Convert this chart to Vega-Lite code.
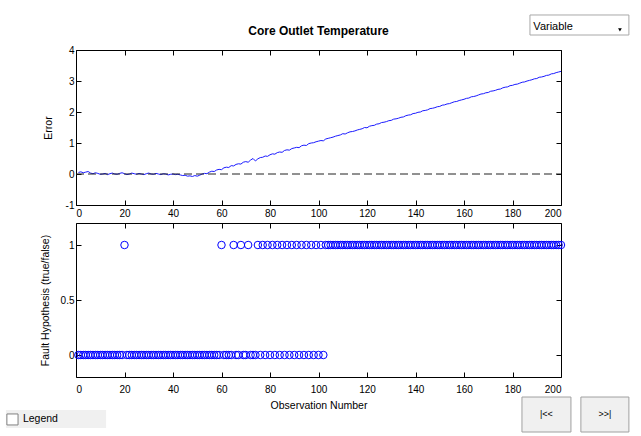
{
  "$schema": "https://vega.github.io/schema/vega-lite/v6.json",
  "padding": {"left": 5, "top": 13, "right": 5, "bottom": 2},
  "background": "white",
  "config": {
    "font": "Liberation Sans",
    "view": {"stroke": "black", "strokeWidth": 1},
    "axis": {"domain": false, "grid": false, "labelFont": "Liberation Sans", "labelFontSize": 10, "labelColor": "black", "titleFont": "Liberation Sans", "titleFontSize": 10.5, "titleFontWeight": "normal", "titleColor": "black", "tickColor": "black", "tickSize": -5, "tickWidth": 1}
  },
  "datasets": {
    "err": [
      {"x":1,"e":0.05},{"x":2,"e":0.07},{"x":3,"e":0.04},{"x":4,"e":0.06},{"x":5,"e":0.08},{"x":6,"e":0.03},{"x":7,"e":0.01},{"x":8,"e":0.04},{"x":9,"e":0.02},{"x":10,"e":-0.01},
      {"x":11,"e":0.0},{"x":12,"e":0.02},{"x":13,"e":-0.02},{"x":14,"e":0.01},{"x":15,"e":0.03},{"x":16,"e":0.0},{"x":17,"e":-0.01},{"x":18,"e":0.02},{"x":19,"e":0.04},{"x":20,"e":0.01},
      {"x":21,"e":-0.02},{"x":22,"e":0.0},{"x":23,"e":0.03},{"x":24,"e":0.01},{"x":25,"e":-0.01},{"x":26,"e":0.02},{"x":27,"e":0.0},{"x":28,"e":-0.02},{"x":29,"e":0.01},{"x":30,"e":0.03},
      {"x":31,"e":0.0},{"x":32,"e":-0.01},{"x":33,"e":0.02},{"x":34,"e":0.0},{"x":35,"e":-0.02},{"x":36,"e":0.01},{"x":37,"e":0.0},{"x":38,"e":-0.03},{"x":39,"e":-0.01},{"x":40,"e":0.0},
      {"x":41,"e":-0.02},{"x":42,"e":-0.01},{"x":43,"e":-0.03},{"x":44,"e":-0.05},{"x":45,"e":-0.04},{"x":46,"e":-0.07},{"x":47,"e":-0.06},{"x":48,"e":-0.08},{"x":49,"e":-0.05},{"x":50,"e":-0.07},
      {"x":51,"e":-0.04},{"x":52,"e":0.0},{"x":53,"e":0.02},{"x":54,"e":0.01},{"x":55,"e":0.06},{"x":56,"e":0.09},{"x":57,"e":0.08},{"x":58,"e":0.13},{"x":59,"e":0.15},{"x":60,"e":0.14},
      {"x":61,"e":0.2},{"x":62,"e":0.22},{"x":63,"e":0.21},{"x":64,"e":0.27},{"x":65,"e":0.26},{"x":66,"e":0.31},{"x":67,"e":0.33},{"x":68,"e":0.32},{"x":69,"e":0.38},{"x":70,"e":0.4},
      {"x":71,"e":0.38},{"x":72,"e":0.45},{"x":73,"e":0.5},{"x":74,"e":0.42},{"x":75,"e":0.49},{"x":76,"e":0.53},{"x":77,"e":0.54},{"x":78,"e":0.58},{"x":79,"e":0.57},{"x":80,"e":0.62},
      {"x":81,"e":0.65},{"x":82,"e":0.64},{"x":83,"e":0.69},{"x":84,"e":0.71},{"x":85,"e":0.7},{"x":86,"e":0.76},{"x":87,"e":0.78},{"x":88,"e":0.77},{"x":89,"e":0.82},{"x":90,"e":0.84},
      {"x":91,"e":0.86},{"x":92,"e":0.85},{"x":93,"e":0.91},{"x":94,"e":0.93},{"x":95,"e":0.92},{"x":96,"e":0.98},{"x":97,"e":1.0},{"x":98,"e":1.01},{"x":99,"e":1.04},{"x":100,"e":1.06},
      {"x":101,"e":1.08},{"x":102,"e":1.07},{"x":103,"e":1.13},{"x":104,"e":1.15},{"x":105,"e":1.17},{"x":106,"e":1.19},{"x":107,"e":1.22},{"x":108,"e":1.24},{"x":109,"e":1.26},{"x":110,"e":1.3},
      {"x":111,"e":1.29},{"x":112,"e":1.33},{"x":113,"e":1.36},{"x":114,"e":1.37},{"x":115,"e":1.39},{"x":116,"e":1.42},{"x":117,"e":1.44},{"x":118,"e":1.46},{"x":119,"e":1.5},{"x":120,"e":1.49},
      {"x":121,"e":1.54},{"x":122,"e":1.56},{"x":123,"e":1.57},{"x":124,"e":1.61},{"x":125,"e":1.62},{"x":126,"e":1.66},{"x":127,"e":1.67},{"x":128,"e":1.69},{"x":129,"e":1.72},{"x":130,"e":1.73},
      {"x":131,"e":1.77},{"x":132,"e":1.78},{"x":133,"e":1.8},{"x":134,"e":1.83},{"x":135,"e":1.84},{"x":136,"e":1.88},{"x":137,"e":1.9},{"x":138,"e":1.91},{"x":139,"e":1.95},{"x":140,"e":1.96},
      {"x":141,"e":1.99},{"x":142,"e":2.0},{"x":143,"e":2.04},{"x":144,"e":2.05},{"x":145,"e":2.07},{"x":146,"e":2.11},{"x":147,"e":2.12},{"x":148,"e":2.14},{"x":149,"e":2.17},{"x":150,"e":2.18},
      {"x":151,"e":2.22},{"x":152,"e":2.23},{"x":153,"e":2.26},{"x":154,"e":2.27},{"x":155,"e":2.3},{"x":156,"e":2.33},{"x":157,"e":2.34},{"x":158,"e":2.37},{"x":159,"e":2.39},{"x":160,"e":2.41},
      {"x":161,"e":2.44},{"x":162,"e":2.45},{"x":163,"e":2.49},{"x":164,"e":2.5},{"x":165,"e":2.52},{"x":166,"e":2.55},{"x":167,"e":2.58},{"x":168,"e":2.59},{"x":169,"e":2.62},{"x":170,"e":2.63},
      {"x":171,"e":2.67},{"x":172,"e":2.68},{"x":173,"e":2.7},{"x":174,"e":2.73},{"x":175,"e":2.74},{"x":176,"e":2.78},{"x":177,"e":2.8},{"x":178,"e":2.81},{"x":179,"e":2.85},{"x":180,"e":2.86},
      {"x":181,"e":2.89},{"x":182,"e":2.9},{"x":183,"e":2.93},{"x":184,"e":2.96},{"x":185,"e":2.97},{"x":186,"e":3.0},{"x":187,"e":3.02},{"x":188,"e":3.04},{"x":189,"e":3.07},{"x":190,"e":3.08},
      {"x":191,"e":3.12},{"x":192,"e":3.13},{"x":193,"e":3.15},{"x":194,"e":3.18},{"x":195,"e":3.19},{"x":196,"e":3.23},{"x":197,"e":3.24},{"x":198,"e":3.27},{"x":199,"e":3.29},{"x":200,"e":3.31}
    ],
    "fault": [
      {"x":1,"f":0},{"x":2,"f":0},{"x":3,"f":0},{"x":4,"f":0},{"x":5,"f":0},{"x":6,"f":0},{"x":7,"f":0},{"x":8,"f":0},{"x":9,"f":0},{"x":10,"f":0},
      {"x":11,"f":0},{"x":12,"f":0},{"x":13,"f":0},{"x":14,"f":0},{"x":15,"f":0},{"x":16,"f":0},{"x":17,"f":0},{"x":18,"f":0},{"x":19,"f":0},{"x":20,"f":1},
      {"x":21,"f":0},{"x":22,"f":0},{"x":23,"f":0},{"x":24,"f":0},{"x":25,"f":0},{"x":26,"f":0},{"x":27,"f":0},{"x":28,"f":0},{"x":29,"f":0},{"x":30,"f":0},
      {"x":31,"f":0},{"x":32,"f":0},{"x":33,"f":0},{"x":34,"f":0},{"x":35,"f":0},{"x":36,"f":0},{"x":37,"f":0},{"x":38,"f":0},{"x":39,"f":0},{"x":40,"f":0},
      {"x":41,"f":0},{"x":42,"f":0},{"x":43,"f":0},{"x":44,"f":0},{"x":45,"f":0},{"x":46,"f":0},{"x":47,"f":0},{"x":48,"f":0},{"x":49,"f":0},{"x":50,"f":0},
      {"x":51,"f":0},{"x":52,"f":0},{"x":53,"f":0},{"x":54,"f":0},{"x":55,"f":0},{"x":56,"f":0},{"x":57,"f":0},{"x":58,"f":0},{"x":59,"f":0},{"x":60,"f":1},
      {"x":61,"f":0},{"x":62,"f":0},{"x":63,"f":0},{"x":64,"f":0},{"x":65,"f":1},{"x":66,"f":0},{"x":67,"f":0},{"x":68,"f":1},{"x":69,"f":0},{"x":70,"f":0},
      {"x":71,"f":1},{"x":72,"f":0},{"x":73,"f":0},{"x":74,"f":0},{"x":75,"f":1},{"x":76,"f":0},{"x":77,"f":1},{"x":78,"f":0},{"x":79,"f":1},{"x":80,"f":0},
      {"x":81,"f":1},{"x":82,"f":0},{"x":83,"f":1},{"x":84,"f":0},{"x":85,"f":1},{"x":86,"f":0},{"x":87,"f":1},{"x":88,"f":0},{"x":89,"f":1},{"x":90,"f":0},
      {"x":91,"f":1},{"x":92,"f":0},{"x":93,"f":1},{"x":94,"f":0},{"x":95,"f":1},{"x":96,"f":0},{"x":97,"f":1},{"x":98,"f":0},{"x":99,"f":1},{"x":100,"f":0},
      {"x":101,"f":1},{"x":102,"f":0},{"x":103,"f":1},{"x":104,"f":1},{"x":105,"f":1},{"x":106,"f":1},{"x":107,"f":1},{"x":108,"f":1},{"x":109,"f":1},{"x":110,"f":1},
      {"x":111,"f":1},{"x":112,"f":1},{"x":113,"f":1},{"x":114,"f":1},{"x":115,"f":1},{"x":116,"f":1},{"x":117,"f":1},{"x":118,"f":1},{"x":119,"f":1},{"x":120,"f":1},
      {"x":121,"f":1},{"x":122,"f":1},{"x":123,"f":1},{"x":124,"f":1},{"x":125,"f":1},{"x":126,"f":1},{"x":127,"f":1},{"x":128,"f":1},{"x":129,"f":1},{"x":130,"f":1},
      {"x":131,"f":1},{"x":132,"f":1},{"x":133,"f":1},{"x":134,"f":1},{"x":135,"f":1},{"x":136,"f":1},{"x":137,"f":1},{"x":138,"f":1},{"x":139,"f":1},{"x":140,"f":1},
      {"x":141,"f":1},{"x":142,"f":1},{"x":143,"f":1},{"x":144,"f":1},{"x":145,"f":1},{"x":146,"f":1},{"x":147,"f":1},{"x":148,"f":1},{"x":149,"f":1},{"x":150,"f":1},
      {"x":151,"f":1},{"x":152,"f":1},{"x":153,"f":1},{"x":154,"f":1},{"x":155,"f":1},{"x":156,"f":1},{"x":157,"f":1},{"x":158,"f":1},{"x":159,"f":1},{"x":160,"f":1},
      {"x":161,"f":1},{"x":162,"f":1},{"x":163,"f":1},{"x":164,"f":1},{"x":165,"f":1},{"x":166,"f":1},{"x":167,"f":1},{"x":168,"f":1},{"x":169,"f":1},{"x":170,"f":1},
      {"x":171,"f":1},{"x":172,"f":1},{"x":173,"f":1},{"x":174,"f":1},{"x":175,"f":1},{"x":176,"f":1},{"x":177,"f":1},{"x":178,"f":1},{"x":179,"f":1},{"x":180,"f":1},
      {"x":181,"f":1},{"x":182,"f":1},{"x":183,"f":1},{"x":184,"f":1},{"x":185,"f":1},{"x":186,"f":1},{"x":187,"f":1},{"x":188,"f":1},{"x":189,"f":1},{"x":190,"f":1},
      {"x":191,"f":1},{"x":192,"f":1},{"x":193,"f":1},{"x":194,"f":1},{"x":195,"f":1},{"x":196,"f":1},{"x":197,"f":1},{"x":198,"f":1},{"x":199,"f":1},{"x":200,"f":1}
    ]
  },
  "spacing": 18,
  "bounds": "flush",
  "vconcat": [
    {
      "width": 485,
      "height": 155,
      "title": {"text": "Core Outlet Temperature", "font": "Liberation Sans", "fontSize": 12, "fontWeight": "bold", "color": "black", "offset": 7},
      "resolve": {"axis": {"x": "independent", "y": "independent"}},
      "layer": [
        {
          "data": {"name": "err"},
          "mark": {"type": "line", "color": "#1a1aff", "strokeWidth": 1},
          "encoding": {
            "x": {"field": "x", "type": "quantitative", "scale": {"domain": [0, 200], "nice": false}, "axis": {"orient": "bottom", "values": [0,20,40,60,80,100,120,140,160,180,200], "title": null, "labelPadding": 8}},
            "y": {"field": "e", "type": "quantitative", "scale": {"domain": [-1, 4], "nice": false, "zero": false}, "axis": {"orient": "left", "values": [-1,0,1,2,3,4], "title": "Error", "labelPadding": 7, "titlePadding": 12, "labelExpr": "'' + datum.value"}}
          }
        },
        {
          "data": {"values": [{}]},
          "mark": {"type": "rule", "color": "#222222", "strokeWidth": 1, "strokeDash": [8, 4]},
          "encoding": {
            "x": {"datum": 0, "type": "quantitative", "axis": null},
            "x2": {"datum": 200},
            "y": {"datum": 0, "type": "quantitative", "axis": null}
          }
        },
        {
          "data": {"values": [{}]},
          "mark": {"type": "point", "opacity": 0},
          "encoding": {
            "x": {"datum": 0, "type": "quantitative", "axis": {"orient": "top", "values": [0,20,40,60,80,100,120,140,160,180,200], "labels": false, "title": null}},
            "y": {"datum": 0, "type": "quantitative", "axis": {"orient": "right", "values": [-1,0,1,2,3,4], "labels": false, "title": null}}
          }
        }
      ]
    },
    {
      "width": 485,
      "height": 154,
      "resolve": {"axis": {"x": "independent", "y": "independent"}},
      "layer": [
        {
          "data": {"name": "fault"},
          "mark": {"type": "point", "shape": "circle", "filled": false, "color": "#0000ff", "size": 56, "strokeWidth": 1, "opacity": 1},
          "encoding": {
            "x": {"field": "x", "type": "quantitative", "scale": {"domain": [0, 200], "nice": false}, "axis": {"orient": "bottom", "values": [0,20,40,60,80,100,120,140,160,180,200], "title": "Observation Number", "labelPadding": 12, "titlePadding": 6}},
            "y": {"field": "f", "type": "quantitative", "scale": {"domain": [-0.2, 1.2], "nice": false, "zero": false}, "axis": {"orient": "left", "values": [0, 0.5, 1], "title": "Fault Hypothesis (true/false)", "labelPadding": 7, "titlePadding": 10, "labelExpr": "'' + datum.value"}}
          }
        },
        {
          "data": {"values": [{}]},
          "mark": {"type": "point", "opacity": 0},
          "encoding": {
            "x": {"datum": 0, "type": "quantitative", "axis": {"orient": "top", "values": [0,20,40,60,80,100,120,140,160,180,200], "labels": false, "title": null}},
            "y": {"datum": 0, "type": "quantitative", "axis": {"orient": "right", "values": [0, 0.5, 1], "labels": false, "title": null}}
          }
        },
        {
          "data": {"values": [{}]},
          "mark": {"type": "rect", "fill": "white", "stroke": "#a8a8a8", "strokeWidth": 1},
          "encoding": {
            "x": {"datum": 187.2, "type": "quantitative", "axis": null},
            "x2": {"datum": 228},
            "y": {"datum": 3.091, "type": "quantitative", "axis": null},
            "y2": {"datum": 2.909}
          }
        },
        {
          "data": {"values": [{}]},
          "mark": {"type": "text", "text": "Variable", "font": "Liberation Sans", "fontSize": 11, "align": "left", "baseline": "middle", "color": "black"},
          "encoding": {
            "x": {"datum": 188.6, "type": "quantitative", "axis": null},
            "y": {"datum": 2.982, "type": "quantitative", "axis": null}
          }
        },
        {
          "data": {"values": [{}]},
          "mark": {"type": "point", "shape": "triangle-down", "filled": true, "color": "black", "size": 14, "opacity": 1},
          "encoding": {
            "x": {"datum": 224.3, "type": "quantitative", "axis": null},
            "y": {"datum": 2.955, "type": "quantitative", "axis": null}
          }
        },
        {
          "data": {"values": [{}]},
          "mark": {"type": "rect", "fill": "#f0f0f0"},
          "encoding": {
            "x": {"datum": -28.9, "type": "quantitative", "axis": null},
            "x2": {"datum": 12.4},
            "y": {"datum": -0.5, "type": "quantitative", "axis": null},
            "y2": {"datum": -0.664}
          }
        },
        {
          "data": {"values": [{}]},
          "mark": {"type": "rect", "fill": "white", "stroke": "#808080", "strokeWidth": 1},
          "encoding": {
            "x": {"datum": -28.5, "type": "quantitative", "axis": null},
            "x2": {"datum": -23.9},
            "y": {"datum": -0.536, "type": "quantitative", "axis": null},
            "y2": {"datum": -0.636}
          }
        },
        {
          "data": {"values": [{}]},
          "mark": {"type": "text", "text": "Legend", "font": "Liberation Sans", "fontSize": 10.5, "align": "left", "baseline": "middle", "color": "black"},
          "encoding": {
            "x": {"datum": -21.9, "type": "quantitative", "axis": null},
            "y": {"datum": -0.585, "type": "quantitative", "axis": null}
          }
        },
        {
          "data": {"values": [{}]},
          "mark": {"type": "rect", "fill": "#f0f0f0", "stroke": "#a0a0a0", "strokeWidth": 1},
          "encoding": {
            "x": {"datum": 183.9, "type": "quantitative", "axis": null},
            "x2": {"datum": 204.1},
            "y": {"datum": -0.382, "type": "quantitative", "axis": null},
            "y2": {"datum": -0.7}
          }
        },
        {
          "data": {"values": [{}]},
          "mark": {"type": "rect", "fill": "#f0f0f0", "stroke": "#a0a0a0", "strokeWidth": 1},
          "encoding": {
            "x": {"datum": 208.2, "type": "quantitative", "axis": null},
            "x2": {"datum": 228},
            "y": {"datum": -0.382, "type": "quantitative", "axis": null},
            "y2": {"datum": -0.7}
          }
        },
        {
          "data": {"values": [{}]},
          "mark": {"type": "text", "text": "|<<", "font": "Liberation Sans", "fontSize": 9, "align": "center", "baseline": "middle", "color": "black"},
          "encoding": {
            "x": {"datum": 194, "type": "quantitative", "axis": null},
            "y": {"datum": -0.54, "type": "quantitative", "axis": null}
          }
        },
        {
          "data": {"values": [{}]},
          "mark": {"type": "text", "text": ">>|", "font": "Liberation Sans", "fontSize": 9, "align": "center", "baseline": "middle", "color": "black"},
          "encoding": {
            "x": {"datum": 218.1, "type": "quantitative", "axis": null},
            "y": {"datum": -0.54, "type": "quantitative", "axis": null}
          }
        }
      ]
    }
  ]
}
